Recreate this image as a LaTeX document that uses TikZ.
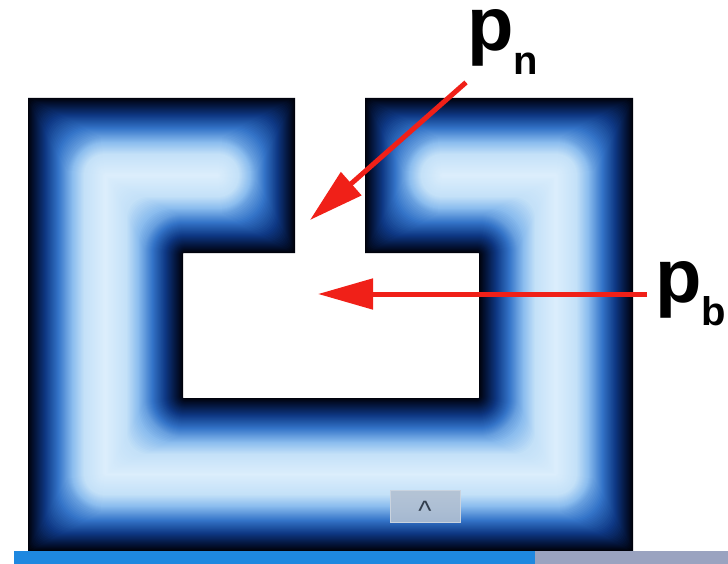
\documentclass[tikz,border=0pt]{standalone}
\usepackage{fontspec}
\setmainfont{Liberation Sans}
\usetikzlibrary{arrows.meta}
\definecolor{dfblack}{RGB}{0,2,12}
\definecolor{dfnavya}{RGB}{4,22,62}
\definecolor{dfnavyb}{RGB}{14,56,132}
\definecolor{dfblue}{RGB}{52,116,200}
\definecolor{dflighta}{RGB}{138,188,238}
\definecolor{dflightb}{RGB}{196,225,248}
\definecolor{dfridge}{RGB}{220,238,252}
\definecolor{arrowred}{RGB}{240,32,24}
\definecolor{barblue}{RGB}{30,136,224}
\definecolor{bargray}{RGB}{154,163,192}
\definecolor{knobgray}{RGB}{178,192,210}
\definecolor{caretgray}{RGB}{50,62,78}

\begin{document}
\begin{tikzpicture}[x=1pt,y=-1pt,
  redarrow/.style={draw=arrowred, line width=5pt, -{Triangle[length=55pt,width=30pt]}},
  plabel/.style={inner sep=0pt, font=\bfseries}]

\useasboundingbox (0,0) rectangle (728,564);

% the field, eroded step by step
\fill[dfblack] (28,98) -- (295,98) -- (295,253) -- (183,253) -- (183,398) -- (479,398)
  -- (479,253) -- (365,253) -- (365,98) -- (633,98) -- (633,551) -- (28,551) -- cycle;
\foreach \a/\b/\ca/\cb in {1/7/dfblack/dfnavya, 8/17/dfnavya/dfnavyb, 18/30/dfnavyb/dfblue,
    31/44/dfblue/dflighta, 45/56/dflighta/dflightb, 57/77/dflightb/dfridge}{
  \foreach \d in {\a,...,\b}{
    \pgfmathtruncatemacro{\pct}{(\d-\a+1)/(\b-\a+1)*100}
    \pgfmathsetmacro{\r}{max(0.5, min(0.9*\d+3, (155-2*\d)/2-0.5))}
    \colorlet{dfc}{\cb!\pct!\ca}
    \fill[dfc, rounded corners=\r pt]
      ({28+\d},{98+\d}) -- ({295-\d},{98+\d}) -- ({295-\d},{253-\d}) -- ({183-\d},{253-\d})
      -- ({183-\d},{398+\d}) -- ({479+\d},{398+\d}) -- ({479+\d},{253-\d}) -- ({365+\d},{253-\d})
      -- ({365+\d},{98+\d}) -- ({633-\d},{98+\d}) -- ({633-\d},{551-\d}) -- ({28+\d},{551-\d}) -- cycle;
  }
}

% scroll knob
\draw[knobgray!70!white, fill=knobgray, fill opacity=0.9] (390,490) rectangle (460,522);
\node[font=\fontsize{28}{28}\selectfont, text=caretgray, inner sep=0pt] (caret) at (425,511) {\textasciicircum};

% bottom bar
\fill[barblue] (14,551) rectangle (535,564);
\fill[bargray] (535,551) rectangle (728,564);

% labels
\node[plabel, anchor=north west] (pn) at (467,9)
  {\fontsize{76}{76}\selectfont p\raisebox{-24pt}{\fontsize{40}{40}\selectfont n}};
\node[plabel, anchor=west] (pb) at (655,294)
  {\fontsize{76}{76}\selectfont p\raisebox{-23pt}{\fontsize{40}{40}\selectfont b}};

\coordinate (ntip) at (310,220);
\coordinate (btip) at (318,294);

\draw[redarrow] ([xshift=-1pt,yshift=-8pt]pn.south west) -- (ntip);
\draw[redarrow] ([xshift=-8pt]pb.west) -- (btip);

\end{tikzpicture}
\end{document}
